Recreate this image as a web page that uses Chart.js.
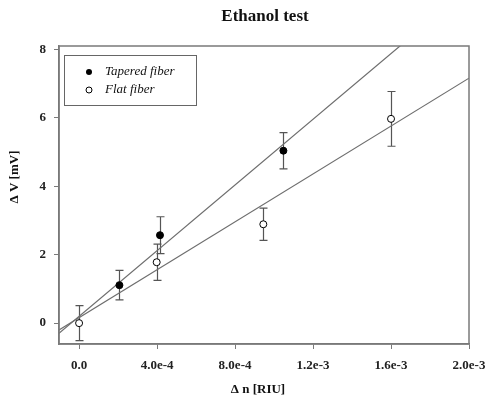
<!DOCTYPE html>
<html>
<head>
<meta charset="utf-8">
<script src="https://cdn.jsdelivr.net/npm/chart.js@4.4.1/dist/chart.umd.min.js"></script>
<style>
  html, body { margin: 0; padding: 0; background: #fff; }
  #wrap { width: 485px; height: 404px; }
</style>
</head>
<body>
<div id="wrap"><canvas id="chart" width="485" height="404"></canvas></div>
<script>
// data
const taperedX = [2.07e-4, 4.15e-4, 1.048e-3];
const taperedY = [1.11, 2.57, 5.04];
const taperedErr = [0.43, 0.54, 0.53];

const flatX = [0, 3.98e-4, 9.45e-4, 1.6e-3];
const flatY = [0, 1.78, 2.89, 5.97];
const flatErr = [0.51, 0.53, 0.47, 0.8];

// fitted lines (endpoints across the x range)
const fitX = [-1.03e-4, 2.0e-3];
const taperedFitY = [-0.30, 9.80];
const flatFitY = [-0.20, 7.16];

const xTicks = [0, 4e-4, 8e-4, 1.2e-3, 1.6e-3, 2.0e-3];
const xTickLabels = ["0.0", "4.0e-4", "8.0e-4", "1.2e-3", "1.6e-3", "2.0e-3"];
const yTicks = [0, 2, 4, 6, 8];

const serif = "'Liberation Serif', 'Times New Roman', serif";
const axisGray = "#7a7a7a";

const pts = (xs, ys) => xs.map((x, i) => ({ x: x, y: ys[i] }));

// error bars, frame, titles and legend
const extras = {
  id: "extras",
  beforeDatasetsDraw(chart) {
    const ctx = chart.ctx;
    const xs = chart.scales.x, ys = chart.scales.y;
    ctx.save();
    ctx.strokeStyle = "#555";
    ctx.lineWidth = 1.2;
    const bars = (X, Y, E) => X.forEach((x, i) => {
      const px = Math.round(xs.getPixelForValue(x)) + 0.5;
      const top = ys.getPixelForValue(Y[i] + E[i]);
      const bot = ys.getPixelForValue(Y[i] - E[i]);
      ctx.beginPath();
      ctx.moveTo(px, top); ctx.lineTo(px, bot);
      ctx.moveTo(px - 4, top); ctx.lineTo(px + 4, top);
      ctx.moveTo(px - 4, bot); ctx.lineTo(px + 4, bot);
      ctx.stroke();
    });
    bars(flatX, flatY, flatErr);
    bars(taperedX, taperedY, taperedErr);
    ctx.restore();
  },
  afterDraw(chart) {
    const ctx = chart.ctx;
    const a = chart.chartArea;
    ctx.save();
    // frame
    ctx.strokeStyle = axisGray;
    ctx.lineWidth = 1.5;
    ctx.strokeRect(a.left, a.top, a.right - a.left, a.bottom - a.top);

    // titles
    ctx.fillStyle = "#111";
    ctx.textAlign = "center";
    ctx.textBaseline = "middle";
    ctx.font = "bold 17px " + serif;
    ctx.fillText("Ethanol test", 265, 17);
    ctx.font = "bold 13px " + serif;
    ctx.fillText("\u0394 n [RIU]", 258, 390);
    ctx.translate(15, 177);
    ctx.rotate(-Math.PI / 2);
    ctx.fillText("\u0394 V [mV]", 0, 0);
    ctx.setTransform(1, 0, 0, 1, 0, 0);

    // legend
    ctx.strokeStyle = "#666";
    ctx.lineWidth = 1;
    ctx.strokeRect(64.5, 55.5, 132, 50);
    ctx.fillStyle = "#000";
    ctx.beginPath(); ctx.arc(89, 72, 3, 0, Math.PI * 2); ctx.fill();
    ctx.fillStyle = "#fff";
    ctx.strokeStyle = "#000";
    ctx.beginPath(); ctx.arc(89, 90, 3, 0, Math.PI * 2); ctx.fill(); ctx.stroke();
    ctx.fillStyle = "#111";
    ctx.textAlign = "left";
    ctx.font = "italic 13px " + serif;
    ctx.fillText("Tapered fiber", 105, 72);
    ctx.fillText("Flat fiber", 105, 90);
    ctx.restore();
  }
};

new Chart(document.getElementById("chart"), {
  type: "scatter",
  data: {
    datasets: [
      {
        label: "Tapered fiber",
        data: pts(taperedX, taperedY),
        pointRadius: 3.5,
        pointBackgroundColor: "#000",
        pointBorderColor: "#000",
        pointBorderWidth: 1,
        order: 0
      },
      {
        label: "Flat fiber",
        data: pts(flatX, flatY),
        pointRadius: 3.5,
        pointBackgroundColor: "#fff",
        pointBorderColor: "#000",
        pointBorderWidth: 1,
        order: 1
      },
      {
        type: "line",
        label: "Tapered fit",
        data: pts(fitX, taperedFitY),
        borderColor: "#6e6e6e",
        borderWidth: 1.2,
        pointRadius: 0,
        showLine: true,
        order: 2
      },
      {
        type: "line",
        label: "Flat fit",
        data: pts(fitX, flatFitY),
        borderColor: "#6e6e6e",
        borderWidth: 1.2,
        pointRadius: 0,
        showLine: true,
        order: 3
      }
    ]
  },
  options: {
    responsive: false,
    animation: false,
    layout: { padding: { top: 46, right: 16, left: 0, bottom: 0 } },
    plugins: {
      legend: { display: false },
      title: { display: false },
      tooltip: { enabled: false }
    },
    scales: {
      x: {
        type: "linear",
        min: fitX[0],
        max: 2.0e-3,
        afterFit: (s) => { s.height = 60; s.paddingRight = 0; s.paddingLeft = 0; },
        afterBuildTicks: (s) => { s.ticks = xTicks.map((v) => ({ value: v })); },
        grid: { display: true, drawOnChartArea: false, drawTicks: true, tickLength: 5, color: axisGray },
        border: { display: true, color: axisGray, width: 1.5 },
        ticks: {
          color: "#222",
          padding: 9,
          maxRotation: 0,
          font: { family: serif, size: 13, weight: "bold" },
          callback: (v) => {
            const i = xTicks.findIndex((t) => Math.abs(t - v) < 1e-9);
            return i >= 0 ? xTickLabels[i] : "";
          }
        }
      },
      y: {
        type: "linear",
        min: -0.61,
        max: 8.1,
        afterFit: (s) => { s.width = 59; s.paddingTop = 0; s.paddingBottom = 0; },
        afterBuildTicks: (s) => { s.ticks = yTicks.map((v) => ({ value: v })); },
        grid: { display: true, drawOnChartArea: false, drawTicks: true, tickLength: 5, color: axisGray },
        border: { display: true, color: axisGray, width: 1.5 },
        ticks: {
          color: "#222",
          padding: 8,
          font: { family: serif, size: 13, weight: "bold" },
          callback: (v) => String(v)
        }
      }
    }
  },
  plugins: [extras]
});
</script>
</body>
</html>
